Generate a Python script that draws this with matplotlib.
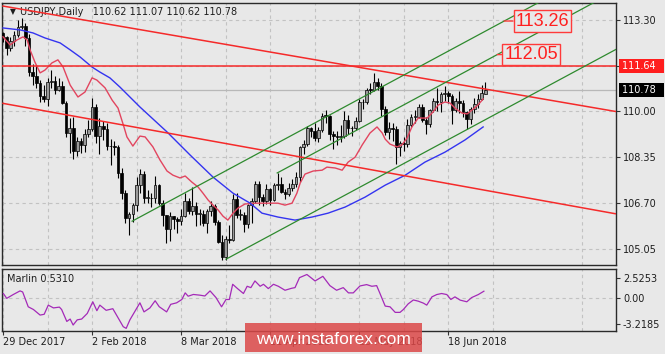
import numpy as np
import pandas as pd
import matplotlib
matplotlib.use("Agg")
import matplotlib.pyplot as plt
from matplotlib.patches import Rectangle
from matplotlib.transforms import blended_transform_factory

# daily USDJPY bars, 29 Dec 2017 .. 2 Jul 2018 (1 Jan has no bar)
dates = pd.bdate_range("2017-12-29", "2018-07-02")
dates = dates[dates != pd.Timestamp("2018-01-01")]

opens = [112.82, 112.67, 112.30, 112.53, 112.75, 113.05, 113.07, 112.64, 111.43, 111.27,
         111.04, 110.56, 110.43, 111.07, 111.08, 110.77, 110.90, 110.32, 109.22, 109.40,
         108.59, 108.94, 108.78, 109.18, 109.37, 110.16, 109.10, 109.47, 109.35, 108.74,
         108.77, 108.71, 107.79, 107.07, 106.14, 106.30, 106.62, 107.34, 107.75, 106.88,
         106.88, 106.86, 107.35, 106.68, 106.25, 105.75, 106.21, 106.12, 106.05, 106.24,
         106.76, 106.42, 106.58, 106.31, 106.31, 105.99, 106.41, 106.60, 106.01, 105.28,
         104.75, 105.40, 105.37, 106.85, 106.27, 106.28, 105.94, 106.61, 106.78, 107.38,
         106.93, 106.78, 107.19, 106.80, 107.36, 107.37, 107.11, 107.03, 107.22, 107.39,
         107.65, 108.70, 108.81, 109.41, 109.29, 109.03, 109.32, 109.85, 109.84, 109.19,
         109.11, 109.09, 109.10, 109.70, 109.39, 109.39, 109.67, 110.35, 110.33, 110.78,
         110.77, 111.05, 110.91, 110.10, 109.24, 109.41, 109.37, 108.73, 108.85, 108.81,
         109.52, 109.80, 109.81, 110.17, 109.70, 109.54, 110.06, 110.37, 110.33, 110.63,
         110.66, 110.54, 110.06, 110.37, 110.30, 109.97, 109.71, 110.09, 110.27, 110.46,
         110.62]
highs = [112.87, 112.73, 112.70, 112.89, 113.30, 113.38, 113.18, 112.80, 111.72, 111.64,
         111.13, 110.97, 111.20, 111.48, 111.29, 111.20, 111.09, 110.38, 109.75, 109.79,
         109.09, 109.03, 109.35, 109.69, 110.48, 110.27, 109.78, 109.65, 109.58, 109.00,
         108.95, 108.80, 107.95, 107.18, 106.38, 106.70, 107.62, 107.91, 107.85, 107.18,
         107.07, 107.68, 107.38, 106.79, 106.27, 106.36, 106.22, 106.19, 106.49, 107.05,
         106.88, 107.29, 106.73, 106.49, 106.45, 106.48, 106.77, 106.66, 106.09, 105.53,
         105.49, 105.90, 107.01, 107.06, 106.48, 106.38, 106.65, 106.86, 107.48, 107.49,
         107.03, 107.39, 107.25, 107.43, 107.78, 107.64, 107.20, 107.40, 107.58, 107.80,
         108.76, 108.98, 109.47, 109.45, 109.58, 109.44, 109.95, 110.05, 109.87, 109.29,
         109.28, 109.52, 110.02, 109.87, 109.48, 109.79, 110.45, 110.46, 110.85, 111.02,
         111.40, 111.19, 111.04, 110.20, 109.63, 109.60, 109.48, 108.93, 109.06, 109.72,
         109.92, 110.04, 110.27, 110.27, 109.81, 110.09, 110.49, 110.85, 110.70, 110.90,
         110.75, 110.62, 110.49, 110.75, 110.40, 110.02, 110.17, 110.48, 110.62, 110.95,
         111.07]
lows = [112.51, 112.05, 112.17, 112.37, 112.68, 112.96, 112.35, 111.27, 110.97, 110.84,
        110.33, 110.33, 110.19, 110.84, 110.63, 110.73, 110.28, 109.07, 108.50, 108.28,
        108.39, 108.50, 108.55, 109.08, 109.29, 108.87, 108.46, 108.97, 108.60, 108.05,
        108.44, 107.59, 106.84, 105.99, 105.55, 106.02, 106.40, 107.05, 106.68, 106.68,
        106.54, 106.71, 106.62, 105.88, 105.25, 105.34, 105.77, 105.62, 105.92, 106.18,
        106.29, 106.25, 105.88, 105.92, 105.86, 105.61, 106.22, 105.92, 105.25, 104.64,
        104.63, 105.25, 105.34, 106.15, 106.08, 105.66, 105.80, 105.99, 106.71, 106.62,
        106.58, 106.65, 106.62, 106.77, 107.15, 107.04, 106.83, 106.95, 107.14, 107.29,
        107.46, 108.47, 108.75, 109.07, 108.93, 108.89, 109.27, 109.59, 108.96, 108.65,
        108.78, 108.88, 109.04, 109.20, 109.11, 109.34, 109.61, 110.07, 110.25, 110.62,
        110.73, 110.79, 109.83, 109.15, 109.02, 108.92, 108.11, 108.40, 108.56, 108.70,
        109.44, 109.57, 109.76, 109.61, 109.20, 109.44, 109.98, 110.03, 109.99, 110.36,
        110.30, 109.55, 109.97, 109.96, 109.81, 109.37, 109.54, 109.94, 110.13, 110.40,
        110.62]
closes = [112.67, 112.30, 112.53, 112.75, 113.05, 113.07, 112.64, 111.43, 111.27, 111.04,
          110.56, 110.43, 111.07, 111.08, 110.77, 110.90, 110.32, 109.22, 109.40, 108.59,
          108.94, 108.78, 109.18, 109.37, 110.16, 109.10, 109.47, 109.35, 108.74, 108.77,
          108.71, 107.79, 107.07, 106.14, 106.30, 106.62, 107.34, 107.75, 106.88, 106.88,
          106.86, 107.35, 106.68, 106.25, 105.75, 106.21, 106.12, 106.05, 106.24, 106.76,
          106.42, 106.58, 106.31, 106.31, 105.99, 106.41, 106.60, 106.01, 105.28, 104.75,
          105.40, 105.37, 106.85, 106.27, 106.28, 105.94, 106.61, 106.78, 107.38, 106.93,
          106.78, 107.19, 106.80, 107.36, 107.37, 107.11, 107.03, 107.22, 107.39, 107.65,
          108.70, 108.81, 109.41, 109.29, 109.03, 109.32, 109.85, 109.84, 109.19, 109.11,
          109.09, 109.10, 109.70, 109.39, 109.39, 109.67, 110.35, 110.33, 110.78, 110.77,
          111.05, 110.91, 110.10, 109.24, 109.41, 109.37, 108.73, 108.85, 108.81, 109.52,
          109.80, 109.81, 110.17, 109.70, 109.54, 110.06, 110.37, 110.33, 110.63, 110.66,
          110.54, 110.06, 110.37, 110.30, 109.97, 109.71, 110.09, 110.27, 110.46, 110.67,
          110.78]

# moving averages (bar index, price)
red_ma_idx = [0, 1.9, 3.8, 5.4, 6.5, 7.3, 8.6, 10, 11.3, 13.2, 14.8, 16.2, 18.1, 20.2, 22.1,
              24, 25.3, 27.5, 29.4, 31, 32.6, 33.4, 35, 36.9, 38.3, 40.4, 42.3, 44.2, 45.8,
              47.7, 49.1, 50.9, 52.6, 53.9, 55.3, 56.6, 58, 59.3, 60.6, 62, 63.3, 65.2, 67.9,
              70.6, 74.1, 76, 77.9, 79.2, 80.1, 81.4, 83.6, 86, 87.3, 89.5, 91.4, 93, 94.9,
              96.8, 98.9, 100.8, 102.2, 103, 104.3, 106.2, 107.5, 108.9, 110.2, 111.9, 114.3,
              115.9, 117.3, 119.1, 120.5, 121.8, 123.7, 125.1, 126.4, 128, 129.4]
red_ma = [112.69, 112.40, 112.58, 112.69, 112.58, 112.22, 111.78, 111.39, 111.49, 111.75,
          111.86, 111.60, 110.95, 110.52, 110.70, 111.21, 111.13, 110.85, 110.41, 110.12,
          109.44, 109.08, 108.75, 109.11, 109.08, 108.72, 108.25, 107.85, 107.70, 107.60,
          107.67, 107.45, 107.27, 107.05, 106.80, 106.62, 106.44, 106.22, 106.08, 106.33,
          106.51, 106.66, 106.69, 106.69, 106.69, 106.62, 106.69, 107.05, 107.42, 107.74,
          107.85, 107.88, 107.99, 107.96, 107.88, 108.17, 108.35, 108.79, 109.22, 109.44,
          109.22, 109.00, 108.82, 108.72, 108.79, 109.04, 109.44, 109.76, 109.76, 109.98,
          110.23, 110.34, 110.30, 110.12, 109.94, 109.91, 110.05, 110.23, 110.45]
blue_ma_idx = [0, 4.6, 8.1, 11.3, 15.4, 18.1, 20.8, 24, 26.1, 28.8, 31.5, 36.9, 44.2, 50.4,
               56.6, 62, 66.6, 69.8, 74.1, 78.7, 83.3, 87.6, 92.2, 97.6, 103, 108.4, 113.7,
               119.1, 124.5, 129.4]
blue_ma = [113.01, 112.94, 112.83, 112.65, 112.47, 112.22, 111.96, 111.60, 111.42, 111.21,
           110.88, 110.16, 109.26, 108.43, 107.63, 107.05, 106.69, 106.33, 106.19, 106.08,
           106.19, 106.33, 106.55, 106.91, 107.34, 107.70, 108.17, 108.53, 108.97, 109.44]

# Marlin oscillator (bar index, value)
marlin_idx = [0.1, 1.0, 2.8, 4.6, 5.3, 6.8, 8.2, 10.0, 11.1, 12.2, 13.6, 15.2, 15.8, 17.2,
              18.1, 18.9, 20.0, 21.2, 22.7, 24.2, 25.3, 26.1, 27.8, 29.6, 32.4, 33.2, 34.2,
              36.9, 38.0, 39.6, 41.0, 42.1, 44.1, 45.2, 46.8, 48.2, 49.1, 49.9, 51.3, 53.1,
              54.4, 55.8, 57.4, 58.9, 60.1, 61.0, 61.9, 63.2, 64.8, 65.8, 66.8, 67.9, 69.3,
              70.2, 71.5, 72.9, 74.2, 76.0, 77.8, 78.7, 79.9, 81.9, 84.1, 86.2, 88.1, 89.9,
              91.7, 93.1, 94.4, 96.2, 98.0, 99.4, 100.7, 101.6, 103.0, 104.3, 105.7, 107.0,
              107.9, 109.2, 110.6, 111.9, 113.3, 114.2, 115.6, 116.9, 118.2, 119.6, 120.7,
              121.8, 123.2, 125.0, 126.3, 128.1, 129.6]
marlin = [0.61, 0.0, 0.49, 0.94, 0.8, -1.06, -1.4, -2.1, -2.0, -0.85, -1.2, -1.1, -1.4, -2.9,
          -2.6, -3.35, -2.7, -2.6, -1.9, -0.43, -1.55, -0.85, -1.5, -1.3, -3.56, -3.77, -2.7,
          -0.56, -1.7, -1.2, -0.3, -1.05, -1.7, -0.75, -0.56, -0.14, 0.69, 0.27, 0.49, 0.4,
          0.3, 0.94, 0.1, -1.06, -0.14, -0.14, 1.77, 1.23, 0.61, 1.52, 1.35, 2.19, 1.52, 1.77,
          1.23, 1.77, 1.52, 1.02, 1.27, 1.35, 2.6, 3.0, 2.19, 2.77, 1.6, 1.02, 1.35, 0.69,
          0.69, 1.56, 1.73, 1.52, 1.6, 0.61, -0.97, -1.06, -1.76, -1.76, -1.4, -0.69, -0.2,
          -0.35, -0.6, -0.85, 0.19, 0.48, 0.61, 0.48, -0.14, 0.19, -0.22, -0.43, 0.1, 0.48, 0.9]

# drawn objects: trend lines (bar index, price)
red_upper = ([0, 165], [113.80, 110.00])
red_lower = ([0, 165], [110.29, 106.31])
hline_price = 111.64
bid_price = 110.78
channel_slope = 0.072
green_starts = [(34.8, 106.04), (73.9, 107.78), (60.1, 104.67)]
level_labels = [(145.4, 113.26, 0), (142.3, 112.05, 1)]  # x, price, green line it hangs on

price_ticks = [105.05, 106.70, 108.35, 110.00, 111.65, 113.30]
marlin_ticks = [-3.2185, 0.0, 2.5253]

BG = "#e8e8e8"
GRID = "#c2c2c2"
RED = "#f52a2a"
GREEN = "#2e8a2e"
TXT = "#1e1e1e"
plt.rcParams["font.family"] = ["DejaVu Sans"]

fig = plt.figure(figsize=(6.65, 3.54), dpi=100, facecolor=BG)
ax = fig.add_axes([0.0030, 0.2514, 0.9233, 0.7401], facecolor=BG)
ax2 = fig.add_axes([0.0030, 0.0650, 0.9233, 0.1751], facecolor=BG, sharex=ax)

x = np.arange(len(closes))
o = np.array(opens); c = np.array(closes)
h = np.array(highs); l = np.array(lows)
up = c >= o
body_lo = np.minimum(o, c)
body_h = np.maximum(np.abs(c - o), 0.025)

# candles
ax.vlines(x, l, h, color="black", lw=0.8, zorder=3)
ax.bar(x, body_h, bottom=body_lo, width=0.72,
       color=np.where(up, "#9a9a9a", "black"), edgecolor="black", lw=0.5, zorder=4)

ax.plot(red_ma_idx, red_ma, color="#e2455f", lw=1.0, zorder=5)
ax.plot(blue_ma_idx, blue_ma, color="#3434f0", lw=1.0, zorder=5)

xmin, xmax = -0.27, 165.2
ax.plot(*red_upper, color=RED, lw=1.1, zorder=5)
ax.plot(*red_lower, color=RED, lw=1.1, zorder=5)
ax.axhline(hline_price, color=RED, lw=1.1, zorder=5)
ax.axhline(bid_price, color="#b8b8b8", lw=0.9, zorder=1)
for gx, gp in green_starts:
    ax.plot([gx, xmax], [gp, gp + channel_slope * (xmax - gx)], color=GREEN, lw=0.9, zorder=5)

for lx, lp, k in level_labels:
    gx, gp = green_starts[k]
    hit = gx + (lp - gp) / channel_slope
    ax.annotate(f"{lp:.2f}", xy=(hit, lp), xytext=(lx, lp), color="#ff1f1f",
                family="Liberation Sans", fontsize=13, ha="center", va="center",
                bbox=dict(boxstyle="square,pad=0.12", fc=BG, ec="#ff3a3a", lw=1.0),
                arrowprops=dict(arrowstyle="-", color="#ff3a3a", lw=1.0,
                                shrinkA=0, shrinkB=0), zorder=6)

ax.set_xlim(xmin, xmax)
ax.set_ylim(104.46, 113.91)
ax.yaxis.tick_right()
ax.set_yticks(price_ticks)
ax.set_yticklabels([f"{t:.2f}" if t != 111.65 else "" for t in price_ticks])
ax.tick_params(axis="y", direction="out", length=3, pad=2, labelsize=7,
               colors="#333333", labelcolor=TXT)
ax.tick_params(axis="x", which="both", length=0, labelbottom=False)

# price tags on the scale
tr = blended_transform_factory(ax.transAxes, ax.transData)
ax.text(1.009, hline_price, "111.64  ", transform=tr, color="white", fontsize=7,
        va="center", ha="left", bbox=dict(boxstyle="square,pad=0.22", fc="#ff1e1e", ec="none"))
ax.text(1.009, bid_price, "110.78  ", transform=tr, color="white", fontsize=7,
        va="center", ha="left", bbox=dict(boxstyle="square,pad=0.22", fc="black", ec="none"))

ax.text(0.013, 0.966, "\u25bc", transform=ax.transAxes, fontsize=5.5, va="center", color=TXT)
ax.text(0.029, 0.966, "USDJPY,Daily   110.62 111.07 110.62 110.78", transform=ax.transAxes,
        fontsize=7, va="center", ha="left", color=TXT)

# indicator panel
ax2.plot(marlin_idx, marlin, color="#a42ab8", lw=0.9, zorder=4)
ax2.axhline(0, color=GRID, lw=0.8, ls=(0, (3, 3)), zorder=1)
ax2.set_ylim(-4.10, 3.69)
ax2.yaxis.tick_right()
ax2.set_yticks(marlin_ticks)
ax2.set_yticklabels(["-3.2185", "0.00", "2.5253"])
ax2.tick_params(axis="y", direction="out", length=3, pad=2, labelsize=7,
                colors="#333333", labelcolor=TXT)
ax2.text(0.0077, 0.84, "Marlin 0.5310", transform=ax2.transAxes, fontsize=7,
         va="center", ha="left", color=TXT)

label_idx = list(range(0, len(dates), 24))
grid_idx = list(range(12, 166, 24))
ax2.set_xticks(label_idx)
ax2.set_xticks(grid_idx, minor=True)
ax2.set_xticklabels([f"{dates[i].day} {dates[i]:%b %Y}" for i in label_idx])
for t in ax2.get_xticklabels():
    t.set_ha("left")
ax2.tick_params(axis="x", which="major", direction="out", length=3, pad=1.5,
                labelsize=7, colors="#333333", labelcolor=TXT)
ax2.tick_params(axis="x", which="minor", length=0)

for a in (ax, ax2):
    a.grid(True, which="both", axis="x", color=GRID, lw=0.8, ls=(0, (3, 3)), zorder=0)
    for s in a.spines.values():
        s.set_color("#2a2a2a")
        s.set_linewidth(1.0)
ax.grid(True, axis="y", color=GRID, lw=0.8, ls=(0, (3, 3)), zorder=0)
ax.set_axisbelow(True)
ax2.set_axisbelow(True)

# watermark (sits over the two middle date labels, as in the source image)
fig.patches.append(Rectangle((245 / 665, 2 / 354), 177 / 665, 29 / 354,
                             transform=fig.transFigure, fc="#dc4848", alpha=0.85,
                             ec="none", zorder=10))
fig.text(333.5 / 665, 15 / 354, "www.instaforex.com", color="white",
         family="Liberation Sans", fontsize=12.5, ha="center", va="center", zorder=11)

fig.savefig("out.png", dpi=100, facecolor=BG)
